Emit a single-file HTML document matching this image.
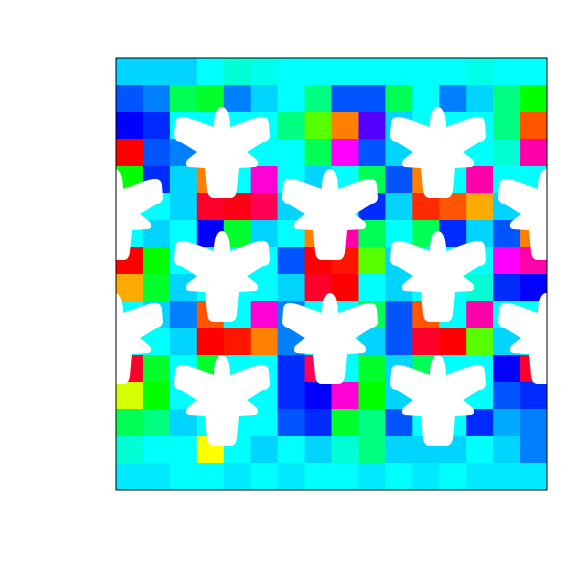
<!DOCTYPE html>
<html><head><meta charset="utf-8"><style>
html,body{margin:0;padding:0;background:#fff;}
svg{display:block;}
</style></head><body>
<svg id="chart" width="576" height="576" viewBox="0 0 576 576" xmlns="http://www.w3.org/2000/svg">
<defs><clipPath id="plotclip"><rect x="116" y="58" width="431" height="432"/></clipPath></defs>
<g id="cells" clip-path="url(#plotclip)"></g>
<g id="holes" clip-path="url(#plotclip)"></g>
<rect x="116" y="58" width="431" height="432" fill="none" stroke="#000" stroke-width="1"/>
</svg>
<script>
const hueRows = [
[190,190,190,180,170,175,180,180,180,180,180,180,180,175,180,180],
[220,210,140,130,210,190,180,150,220,220,140,180,210,190,150,120],
[240,230,180,180,180,180,150,100,30,260,190,180,180,180,150,20],
[0,220,210,180,180,180,180,140,300,220,190,180,180,180,170,320],
[120,230,190,30,180,310,180,190,180,140,220,30,180,320,180,180],
[180,180,190,350,355,340,190,180,180,230,190,10,20,40,190,180],
[180,190,180,240,130,190,180,30,320,140,180,140,230,190,220,30],
[0,120,180,180,180,180,220,0,5,100,190,180,180,180,300,320],
[40,130,190,180,180,180,190,350,0,180,190,180,180,170,230,240],
[180,190,210,20,180,310,210,180,180,140,220,20,180,320,180,180],
[180,180,190,0,5,30,210,180,180,190,220,350,0,100,190,180],
[350,130,180,130,180,180,230,340,180,130,190,140,180,180,240,350],
[70,120,180,180,180,180,230,240,310,120,190,180,180,180,220,230],
[140,150,190,180,180,180,220,230,130,150,220,180,180,230,200,210],
[170,180,180,60,180,190,180,190,170,150,190,190,190,180,190,210],
[185,185,180,180,185,180,185,180,180,185,180,185,180,185,185,185]
];
const flowerCols = [115,222,330,438,546];
const flowerRowsY = [141,203,265,327,389];
const flowerRowCols = [[1,3],[0,2,4],[1,3],[0,2,4],[1,3]];

const X0=116,Y0=58,W=431,H=432;
const nR=hueRows.length,nC=hueRows[0].length;
const cw=W/nC,ch=H/nR;
const cells=document.getElementById('cells');
const NS='http://www.w3.org/2000/svg';
hueRows.forEach((row,r)=>{row.forEach((h,c)=>{
  const e=document.createElementNS(NS,'rect');
  
  
  e.setAttribute('x',X0+c*cw);e.setAttribute('y',Y0+r*ch);
  e.setAttribute('width',cw+0.6);e.setAttribute('height',ch+0.6);
  e.setAttribute('fill','hsl('+h+',100%,50%)');
  cells.appendChild(e);
});});
const d='M0,-34 C5,-34 8,-26 8,-14 L22,-19 Q32,-23 38,-24 Q46,-25 47,-18 L48,-5 Q47,1 41,1 L25,11 L35,19 Q38,25 33,26 L17,27 L15,49 Q14,57 8,57 L-8,57 Q-14,57 -15,49 L-17,27 L-33,26 Q-38,25 -35,19 L-25,11 L-41,1 Q-47,1 -48,-5 L-47,-18 Q-46,-25 -38,-24 Q-32,-23 -22,-19 L-8,-14 C-8,-26 -5,-34 0,-34 Z';
const holes=document.getElementById('holes');
flowerRowsY.forEach((y,ri)=>{flowerRowCols[ri].forEach(ci=>{
  const p=document.createElementNS(NS,'path');
  
  
  p.setAttribute('d',d);p.setAttribute('fill','#fff');
  p.setAttribute('transform','translate('+flowerCols[ci]+','+y+')');
  holes.appendChild(p);
});});
</script>
</body></html>
